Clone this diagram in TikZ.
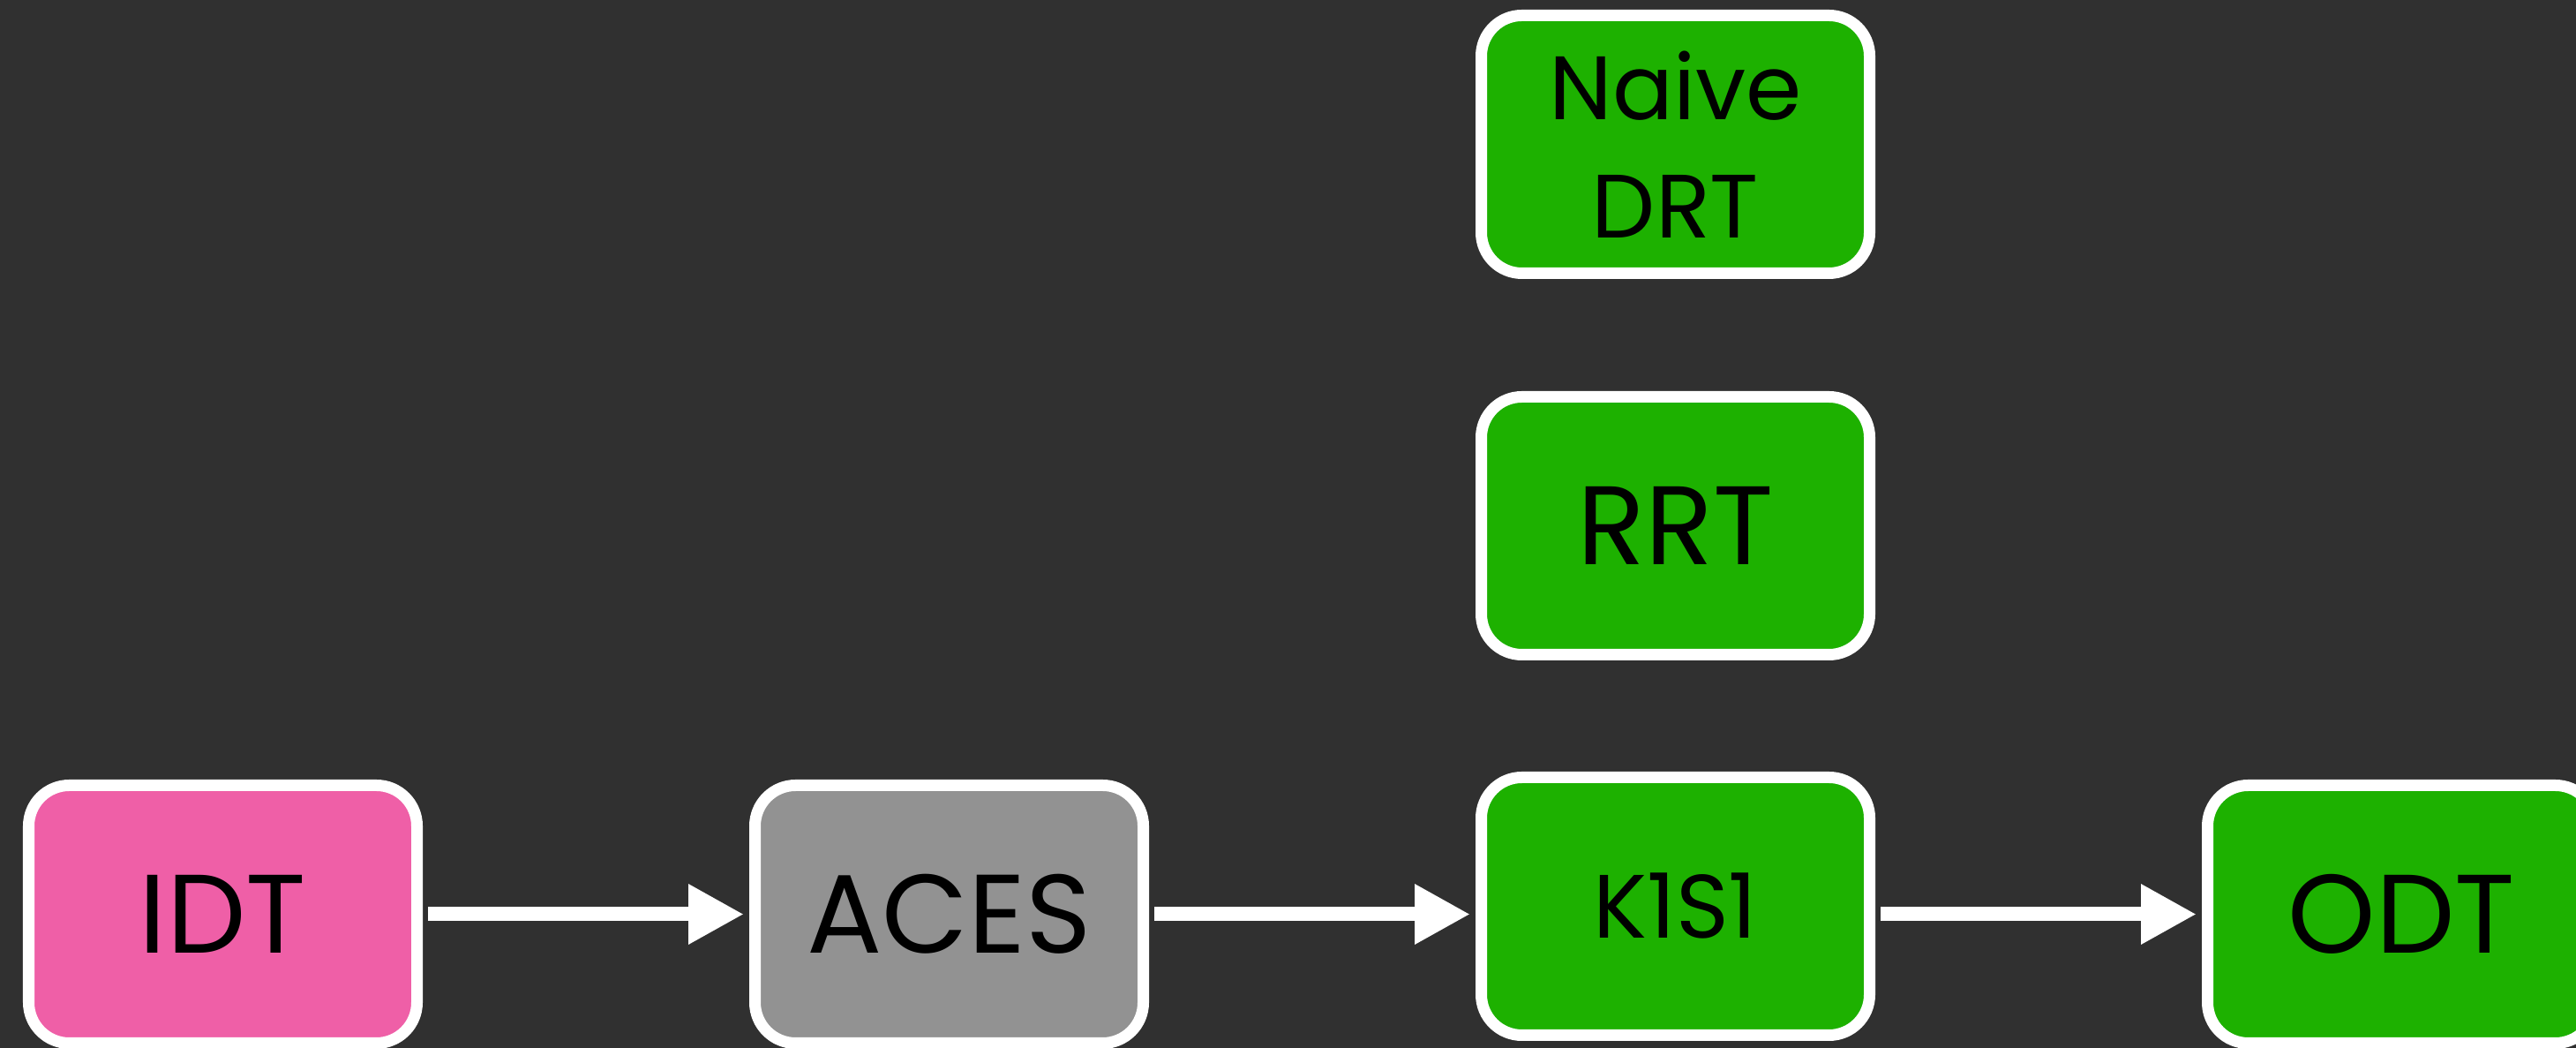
\documentclass[tikz,border=0pt]{standalone}
\usepackage{fontspec}
\setmainfont{Poppins}
\usetikzlibrary{arrows.meta}
\definecolor{slide}{HTML}{303030}
\definecolor{idtpink}{HTML}{EF5FA7}
\definecolor{acesgray}{HTML}{929292}
\definecolor{odtgreen}{HTML}{1DB100}

\begin{document}
\begin{tikzpicture}[
  box/.style={rectangle, rounded corners=0.46cm, draw=white, line width=0.13cm,
    minimum width=4.40cm, minimum height=2.92cm, inner sep=0pt, text=black,
    font=\fontsize{36}{43}\selectfont},
  small/.style={font=\fontsize{29}{38}\selectfont, align=center},
  flow/.style={draw=white, line width=0.16cm,
    -{Triangle[length=0.63cm,width=0.64cm]}, shorten <=0.06cm, shorten >=0.06cm}]
  \fill[slide] (0,0) rectangle (29.19,11.87);
  \useasboundingbox (0,0) rectangle (29.19,11.87);

  \node[box, fill=idtpink] (0) at (2.525,1.515) {IDT};
  \node[box, fill=acesgray] (1) at (10.755,1.515) {ACES};
  \node[box, small, fill=odtgreen] (2) at (18.985,1.605) {K1S1};
  \node[box, fill=odtgreen] (3) at (27.215,1.515) {ODT};

  \node[box, fill=odtgreen] (4) at (18.985,5.915) {RRT};
  \node[box, small, fill=odtgreen] (5) at (18.985,10.235) {Naive\\DRT};

  \draw[flow] (0) -- (1);
  \draw[flow] (1.east) -- (2.west |- 1.east);
  \draw[flow] (2.east |- 3.west) -- (3.west);
\end{tikzpicture}
\end{document}
